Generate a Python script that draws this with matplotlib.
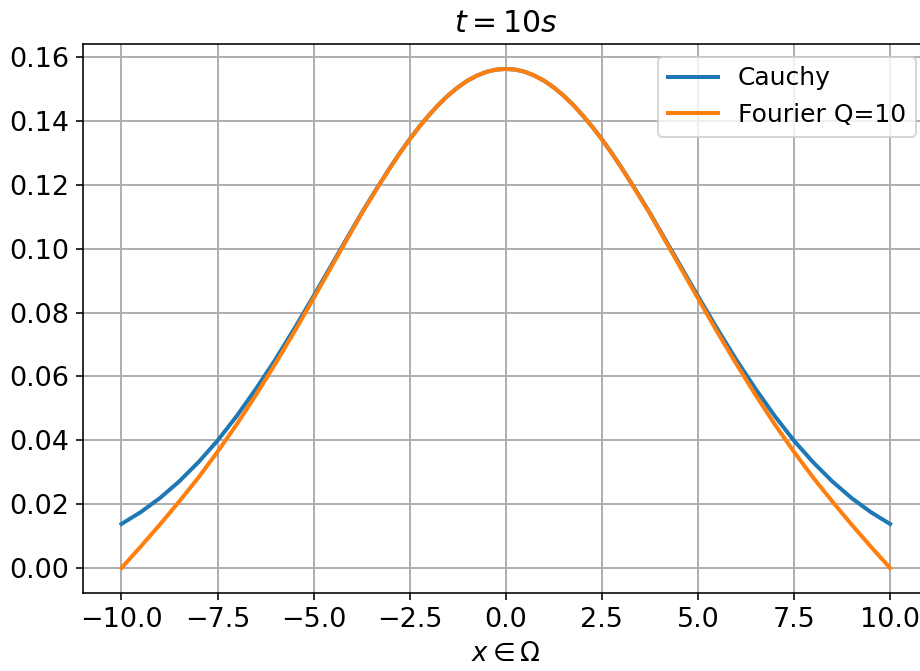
import matplotlib
matplotlib.use("Agg")
import matplotlib.pyplot as plt
import numpy as np

x = [-10.0, -9.5, -9.0, -8.5, -8.0, -7.5, -7.0, -6.5, -6.0, -5.5, -5.0,
     -4.5, -4.0, -3.75, -3.5, -3.25, -3.0, -2.75, -2.5, -2.25, -2.0,
     -1.75, -1.5, -1.25, -1.0, -0.75, -0.5, -0.25, 0.0,
     0.25, 0.5, 0.75, 1.0, 1.25, 1.5, 1.75, 2.0, 2.25, 2.5,
     2.75, 3.0, 3.25, 3.5, 3.75, 4.0, 4.5, 5.0,
     5.5, 6.0, 6.5, 7.0, 7.5, 8.0, 8.5, 9.0, 9.5, 10.0]

cauchy = [0.0138, 0.0175, 0.0219, 0.0271, 0.0331, 0.0399, 0.0476, 0.0561, 0.0652, 0.0750, 0.0852,
          0.0956, 0.1060, 0.1112, 0.1161, 0.1209, 0.1256, 0.1301, 0.1343, 0.1382, 0.1418,
          0.1451, 0.1480, 0.1505, 0.1526, 0.1542, 0.1554, 0.1561, 0.1563,
          0.1561, 0.1554, 0.1542, 0.1526, 0.1505, 0.1480, 0.1451, 0.1418, 0.1382, 0.1343,
          0.1301, 0.1256, 0.1209, 0.1161, 0.1112, 0.1060, 0.0956, 0.0852,
          0.0750, 0.0652, 0.0561, 0.0476, 0.0399, 0.0331, 0.0271, 0.0219, 0.0175, 0.0138]

fourier = [0.0000, 0.0067, 0.0136, 0.0208, 0.0283, 0.0364, 0.0450, 0.0542, 0.0639, 0.0740, 0.0845,
           0.0951, 0.1057, 0.1110, 0.1159, 0.1208, 0.1255, 0.1300, 0.1342, 0.1382, 0.1418,
           0.1451, 0.1480, 0.1505, 0.1526, 0.1542, 0.1554, 0.1561, 0.1563,
           0.1561, 0.1554, 0.1542, 0.1526, 0.1505, 0.1480, 0.1451, 0.1418, 0.1382, 0.1342,
           0.1300, 0.1255, 0.1208, 0.1159, 0.1110, 0.1057, 0.0951, 0.0845,
           0.0740, 0.0639, 0.0542, 0.0450, 0.0364, 0.0283, 0.0208, 0.0136, 0.0067, 0.0000]

labels = ["Cauchy", "Fourier Q=10"]

plt.rcParams["grid.linewidth"] = 1.0
fig = plt.figure(figsize=(920 / 144, 671 / 144), dpi=144)
ax = fig.add_axes([83 / 920, 78 / 671, 845.5 / 920, 549 / 671])
ax.plot(x, cauchy, label=labels[0], lw=2.0)
ax.plot(x, fourier, label=labels[1], lw=2.0)
ax.set_title(r"$t = 10s$", fontsize=15)
ax.set_xlabel(r"$x \in \Omega$", fontsize=13)
ax.tick_params(labelsize=13.5)
ax.grid(True)
ax.legend(loc="upper right", fontsize=12.5)
fig.savefig("out.png", dpi=144)
